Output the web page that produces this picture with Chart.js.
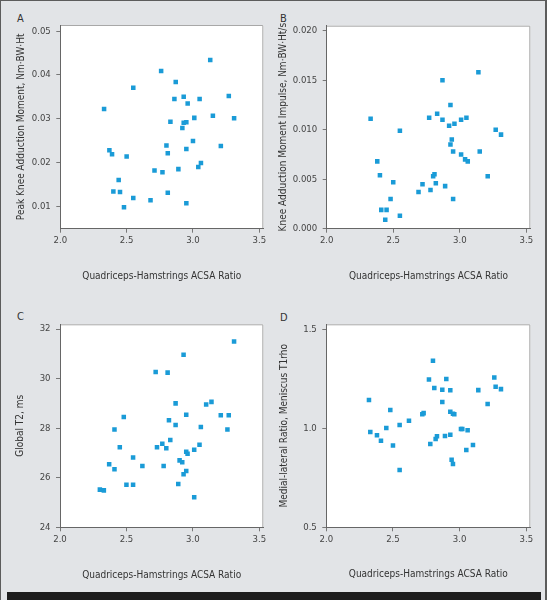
<!DOCTYPE html>
<html>
<head>
<meta charset="utf-8">
<script src="https://cdn.jsdelivr.net/npm/chart.js@4.4.0/dist/chart.umd.min.js"></script>
<style>
  body { margin: 0; background: #e2e4e7; }
  #page { position: relative; width: 547px; height: 600px; box-sizing: border-box;
          border-top: 1px solid #5c5c5c; border-left: 1px solid #5c5c5c; border-right: 2px solid #5c5c5c;
          background: #e2e4e7; overflow: hidden; }
  canvas { position: absolute; }
  .letter { position: absolute; font: 11px 'Liberation Sans Narrow', 'DejaVu Sans Condensed', sans-serif;
            color: #333; line-height: 12px; }
  #bar { position: absolute; left: 6px; top: 591px; width: 534px; height: 8px; background: #1d1d1d; }
</style>
</head>
<body>
<div id="page">
  <div class="letter" style="left:16px;top:12px">A</div>
  <div class="letter" style="left:279px;top:12px">B</div>
  <div class="letter" style="left:16px;top:310px">C</div>
  <div class="letter" style="left:279px;top:311px">D</div>
  <canvas id="chartA" width="273" height="290" style="left:-1px;top:-1px"></canvas>
  <canvas id="chartB" width="274" height="290" style="left:272px;top:-1px"></canvas>
  <canvas id="chartC" width="273" height="300" style="left:-1px;top:289px"></canvas>
  <canvas id="chartD" width="274" height="300" style="left:272px;top:289px"></canvas>
  <div id="bar"></div>
</div>
<script>
// ratio values read per panel (x) and outcome values (y)
const xA = [2.33, 2.55, 2.37, 2.39, 2.50, 2.44, 2.40, 2.45, 2.48, 2.55, 2.68, 2.71, 2.77, 2.76, 2.87, 2.86,
            2.83, 2.80, 2.81, 2.81, 2.89, 2.93, 2.96, 2.92, 2.93, 2.95, 2.95, 2.95, 3.05, 3.01, 3.00, 3.04,
            3.06, 3.13, 3.15, 3.21, 3.27, 3.31];
const yA = [0.0322, 0.0371, 0.0228, 0.0219, 0.0214, 0.0160, 0.0134, 0.0133, 0.0098, 0.0119, 0.0114, 0.0182,
            0.0178, 0.0409, 0.0384, 0.0345, 0.0293, 0.0239, 0.0221, 0.0131, 0.0185, 0.0350, 0.0335, 0.0279,
            0.0291, 0.0292, 0.0231, 0.0107, 0.0345, 0.0302, 0.0249, 0.0190, 0.0199, 0.0434, 0.0307, 0.0238,
            0.0352, 0.0301];

const xB = [2.33, 2.55, 2.38, 2.40, 2.50, 2.48, 2.41, 2.45, 2.44, 2.55, 2.69, 2.72, 2.78, 2.81, 2.80, 2.82,
            2.89, 2.77, 2.83, 2.87, 2.87, 2.93, 2.92, 2.96, 2.93, 2.94, 2.95, 2.95, 3.01, 3.05, 3.01, 3.04,
            3.06, 3.14, 3.15, 3.21, 3.27, 3.31];
const yB = [0.0111, 0.0099, 0.0068, 0.0054, 0.0047, 0.0030, 0.0019, 0.0019, 0.0009, 0.0013, 0.0037, 0.0045,
            0.0039, 0.0055, 0.0053, 0.0046, 0.0043, 0.0112, 0.0116, 0.0110, 0.0150, 0.0125, 0.0104, 0.0106,
            0.0085, 0.0090, 0.0078, 0.0030, 0.0110, 0.0112, 0.0075, 0.0070, 0.0068, 0.0158, 0.0078, 0.0053,
            0.0100, 0.0095];

const xC = [2.30, 2.33, 2.37, 2.41, 2.41, 2.48, 2.45, 2.50, 2.55, 2.55, 2.62, 2.72, 2.81, 2.73, 2.77, 2.80,
            2.78, 2.82, 2.83, 2.87, 2.87, 2.93, 2.95, 2.89, 2.90, 2.92, 2.95, 2.96, 2.95, 2.93, 3.01, 3.01,
            3.05, 3.06, 3.10, 3.14, 3.21, 3.27, 3.26, 3.31];
const yC = [25.52, 25.49, 26.54, 26.34, 27.95, 28.45, 27.23, 25.72, 25.72, 26.82, 26.47, 30.27, 30.24, 27.23,
            27.37, 27.19, 26.47, 28.32, 27.52, 29.00, 28.13, 30.96, 28.54, 25.75, 26.70, 26.62, 27.05, 26.97,
            26.27, 26.14, 25.21, 27.13, 27.33, 28.05, 28.95, 29.06, 28.52, 28.52, 27.95, 31.50];

const xD = [2.32, 2.33, 2.38, 2.41, 2.45, 2.48, 2.50, 2.55, 2.55, 2.62, 2.72, 2.73, 2.77, 2.80, 2.81, 2.78,
            2.82, 2.83, 2.87, 2.87, 2.90, 2.89, 2.93, 2.93, 2.93, 2.95, 2.96, 2.94, 2.95, 3.01, 3.02, 3.06,
            3.05, 3.10, 3.14, 3.21, 3.26, 3.27, 3.31];
const yD = [1.142, 0.981, 0.964, 0.937, 1.001, 1.092, 0.913, 1.016, 0.789, 1.038, 1.070, 1.076, 1.245, 1.340,
            1.203, 0.920, 0.945, 0.959, 1.194, 1.132, 1.248, 0.961, 0.967, 1.191, 1.083, 1.073, 1.070, 0.841,
            0.819, 0.996, 0.996, 0.989, 0.890, 0.915, 1.192, 1.122, 1.256, 1.209, 1.197];

const xTicks = [2.0, 2.5, 3.0, 3.5];
const yTicksA = [0.01, 0.02, 0.03, 0.04, 0.05];
const yTicksB = [0.000, 0.005, 0.010, 0.015, 0.020];
const yTicksC = [24, 26, 28, 30, 32];
const yTicksD = [0.5, 1.0, 1.5];

const xTitle = 'Quadriceps-Hamstrings ACSA Ratio';
const fontFamily = "'Liberation Sans Narrow', 'DejaVu Sans Condensed', sans-serif";
const blue = '#1a9bd7';

// white plot box with light frame on top/right
const boxPlugin = {
  id: 'box',
  beforeDraw(chart) {
    const a = chart.chartArea, ctx = chart.ctx;
    ctx.save();
    ctx.fillStyle = '#ffffff';
    ctx.fillRect(a.left, a.top, a.right - a.left, a.bottom - a.top);
    ctx.strokeStyle = '#a8a8a8';
    ctx.lineWidth = 1;
    ctx.beginPath();
    ctx.moveTo(a.left, a.top + 0.5);
    ctx.lineTo(a.right - 0.5, a.top + 0.5);
    ctx.lineTo(a.right - 0.5, a.bottom);
    ctx.stroke();
    ctx.restore();
  }
};

function makeChart(id, xs, ys, yTicks, yMin, yMax, decimals, yTitle, g) {
  new Chart(document.getElementById(id), {
    type: 'scatter',
    data: {
      datasets: [{
        data: xs.map((x, i) => ({ x: x, y: ys[i] })),
        backgroundColor: blue,
        borderWidth: 0,
        pointStyle: 'rect',
        pointRadius: 3.2
      }]
    },
    options: {
      responsive: false,
      animation: false,
      layout: { padding: { top: g.top, right: g.right, left: 0, bottom: 0 } },
      plugins: { legend: { display: false }, tooltip: { enabled: false } },
      scales: {
        x: {
          type: 'linear',
          min: 2.0,
          max: 3.53,
          afterBuildTicks: s => { s.ticks = xTicks.map(v => ({ value: v })); },
          afterFit: s => { s.height = g.xh; },
          grid: { drawOnChartArea: false, tickLength: 4, color: '#777' },
          border: { color: '#666' },
          ticks: { padding: 2.3, color: '#444', font: { family: fontFamily, size: 9.5 },
                   callback: v => Number(v).toFixed(1) },
          title: { display: true, text: xTitle, color: '#333', font: { family: fontFamily, size: 10 },
                   padding: { top: 0, bottom: g.xtp } }
        },
        y: {
          min: yMin,
          max: yMax,
          afterBuildTicks: s => { s.ticks = yTicks.map(v => ({ value: v })); },
          afterFit: s => { s.width = g.yw; },
          grid: { drawOnChartArea: false, tickLength: 4, color: '#777' },
          border: { color: '#666' },
          ticks: { padding: 5.5, color: '#444', font: { family: fontFamily, size: 9.5 },
                   callback: v => Number(v).toFixed(decimals) },
          title: { display: true, text: yTitle, color: '#333', font: { family: fontFamily, size: 10 },
                   padding: { top: g.ytp, bottom: 0 } }
        }
      }
    },
    plugins: [boxPlugin]
  });
}

makeChart('chartA', xA, yA, yTicksA, 0.0049, 0.0514, 2, 'Peak Knee Adduction Moment, Nm·BW·Ht',
  { top: 25, right: 9.7, xh: 61.3, yw: 60.3, xtp: 8, ytp: 15.7 });
makeChart('chartB', xB, yB, yTicksB, 0, 0.0205, 3, 'Knee Adduction Moment Impulse, Nm·BW·Ht/s',
  { top: 25.7, right: 16.7, xh: 61.3, yw: 53.7, xtp: 8, ytp: 4 });
makeChart('chartC', xC, yC, yTicksC, 24, 32.19, 0, 'Global T2, ms',
  { top: 34.3, right: 9.7, xh: 62.7, yw: 60, xtp: 8.5, ytp: 14 });
makeChart('chartD', xD, yD, yTicksD, 0.5, 1.524, 1, 'Medial-lateral Ratio, Meniscus T1rho',
  { top: 34.3, right: 16.7, xh: 62.7, yw: 53.3, xtp: 9.5, ytp: 5.3 });
</script>
</body>
</html>
